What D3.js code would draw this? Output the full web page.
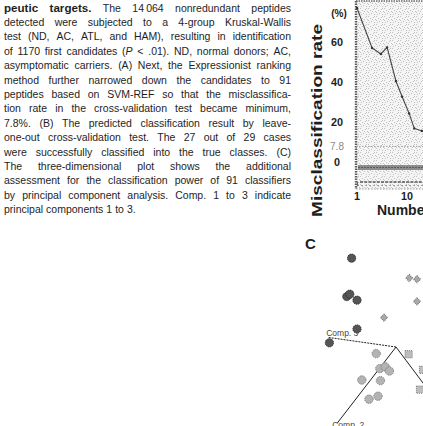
<!DOCTYPE html>
<html>
<head>
<meta charset="utf-8">
<script src="https://cdn.jsdelivr.net/npm/d3@7"></script>
<style>
  body { margin: 0; background: #fff; }
  svg { display: block; }
  text { font-family: "Liberation Sans", Arial, Helvetica, sans-serif; fill: #1e1e1e; }
</style>
</head>
<body>
<div id="chart"></div>
<script>
//--- CAPTION (one entry per printed line)
var captionLines = [
  'peutic targets. The 14\u2009064 nonredundant peptides',
  'detected were subjected to a 4-group Kruskal-Wallis',
  'test (ND, AC, ATL, and HAM), resulting in identification',
  'of 1170 first candidates (P < .01). ND, normal donors; AC,',
  'asymptomatic carriers. (A) Next, the Expressionist ranking',
  'method further narrowed down the candidates to 91',
  'peptides based on SVM-REF so that the misclassifica-',
  'tion rate in the cross-validation test became minimum,',
  '7.8%. (B) The predicted classification result by leave-',
  'one-out cross-validation test. The 27 out of 29 cases',
  'were successfully classified into the true classes. (C)',
  'The three-dimensional plot shows the additional',
  'assessment for the classification power of 91 classifiers',
  'by principal component analysis. Comp. 1 to 3 indicate',
  'principal components 1 to 3.'
];

//--- PANEL A DATA
var peptideCount = [1, 2, 3, 4, 6, 8, 11, 14, 20];
var misRate = [77, 57, 54, 57.3, 40.5, 32.6, 24.3, 16.8, 15.5];
var rateTicks = [60, 40, 20, 0];
var minRate = 7.8;
var countTicks = [1, 10];

//--- PANEL C DATA (projected PCA scores)
var darkCircles = [[-0.74, 1.48], [-0.82, 0.84], [-0.77, 0.88], [-0.65, 0.78], [-0.65, 0.30], [-1.11, 0.07]];
var lightDiamonds = [[0.22, 1.15], [0.35, 1.13], [0.35, 0.76], [-0.20, 0.49]];
var grayBlobs = [[-0.33, -0.11], [-0.27, -0.36], [-0.18, -0.33], [-0.11, -0.40], [-0.57, -0.55],
                 [-0.26, -0.56], [-0.45, -0.87], [-0.30, -0.82]];
var graySquares = [[0.21, -0.12], [0.40, -0.71], [0.45, -0.38]];
var compNames = ['Comp. 3', 'Comp. 2', 'Comp. 1'];
var compEnds = [[-1.13, 0.16], [-0.98, -1.27], [0.75, -1.0]];

var svg = d3.select('#chart').append('svg')
  .attr('width', 423)
  .attr('height', 426);

svg.append('rect').attr('width', 423).attr('height', 426).attr('fill', '#fff');

// light halftone for the plot background
var defs = svg.append('defs');
var stip = defs.append('pattern')
  .attr('id', 'stipple')
  .attr('width', 8).attr('height', 8)
  .attr('patternUnits', 'userSpaceOnUse');
stip.append('rect').attr('width', 8).attr('height', 8).attr('fill', '#f4f4f4');
[[0, 0], [5, 1], [2, 2], [7, 3], [3, 5], [6, 6], [1, 6], [4, 3], [0, 4], [6, 0]].forEach(function(p) {
  stip.append('rect').attr('x', p[0]).attr('y', p[1]).attr('width', 1).attr('height', 1).attr('fill', '#c4c4c4');
});

//--- CAPTION, justified word by word
var capLeft = 4, capRight = 291, capTop = 11.5, capStep = 14.4;

captionLines.forEach(function(line, i) {
  var y = capTop + i * capStep;
  var words = line.split(' ');
  var g = svg.append('g');
  var nodes = words.map(function(w, j) {
    var t = g.append('text').attr('y', y).style('font-size', '10.5px');
    if (i === 0 && j < 2) t.style('font-weight', 'bold').style('font-size', '11.6px');
    if (w === '(P') {
      t.append('tspan').text('(');
      t.append('tspan').style('font-style', 'italic').text('P');
    } else {
      t.text(w);
    }
    return t;
  });
  var widths = nodes.map(function(n) { return n.node().getComputedTextLength(); });
  var last = i === captionLines.length - 1;
  var gap = last ? 3 : (capRight - capLeft - d3.sum(widths)) / (words.length - 1);
  var x = capLeft;
  nodes.forEach(function(n, j) {
    n.attr('x', x);
    x += widths[j] + gap;
  });
});

//--- PANEL A
var plotLeft = 356, plotTop = 1, plotBottom = 189, plotRight = 430;

var scaleX = d3.scaleLog().domain([1, 10]).range([357, 407]);
var scaleY = d3.scaleLinear().domain([0, 80]).range([162, 2]);

svg.append('rect')
  .attr('x', plotLeft).attr('y', plotTop)
  .attr('width', plotRight - plotLeft).attr('height', plotBottom - plotTop)
  .attr('fill', 'url(#stipple)');

// frame
svg.append('line')
  .attr('x1', plotLeft).attr('x2', plotLeft).attr('y1', plotTop).attr('y2', plotBottom)
  .attr('stroke', '#5a5a5a').attr('stroke-width', 2.4).attr('stroke-dasharray', '1.5,1');
svg.append('line')
  .attr('x1', plotLeft).attr('x2', plotRight).attr('y1', plotTop).attr('y2', plotTop)
  .attr('stroke', '#6a6a6a').attr('stroke-width', 1.5).attr('stroke-dasharray', '1.5,1');
svg.append('line')
  .attr('x1', plotLeft).attr('x2', plotRight).attr('y1', plotBottom).attr('y2', plotBottom)
  .attr('stroke', '#999').attr('stroke-width', 1).attr('stroke-dasharray', '1.5,1.5');

// minimum rate reference
svg.append('line')
  .attr('x1', plotLeft).attr('x2', plotRight)
  .attr('y1', scaleY(minRate)).attr('y2', scaleY(minRate))
  .attr('stroke', '#a0a0a0').attr('stroke-width', 1).attr('stroke-dasharray', '1.5,1.5');

// lower bands
svg.append('rect')
  .attr('x', 358).attr('y', 165).attr('width', plotRight - 358).attr('height', 5)
  .attr('fill', '#8c8c8c');
svg.append('line')
  .attr('x1', 358).attr('x2', plotRight).attr('y1', 167.5).attr('y2', 167.5)
  .attr('stroke', '#5c5c5c').attr('stroke-width', 1).attr('stroke-dasharray', '2,1');
svg.append('line')
  .attr('x1', 360).attr('x2', plotRight).attr('y1', 182).attr('y2', 182)
  .attr('stroke', '#555').attr('stroke-width', 1.3).attr('stroke-dasharray', '3,1.2');
svg.append('line')
  .attr('x1', 357).attr('x2', plotRight).attr('y1', 185.5).attr('y2', 185.5)
  .attr('stroke', '#a0a0a0').attr('stroke-width', 1).attr('stroke-dasharray', '2,2');
svg.append('line')
  .attr('x1', 357.5).attr('x2', 357.5).attr('y1', 181.5).attr('y2', 186)
  .attr('stroke', '#666').attr('stroke-width', 1);

// misclassification curve
var rateData = peptideCount.map(function(n, i) { return { n: n, rate: misRate[i] }; });
var lineFunc = d3.line()
  .x(function(d) { return scaleX(d.n); })
  .y(function(d) { return scaleY(d.rate); });

svg.append('path')
  .datum(rateData)
  .attr('d', lineFunc)
  .attr('fill', 'none')
  .attr('stroke', '#444')
  .attr('stroke-width', 1.1);

svg.selectAll('.dot')
  .data(rateData)
  .enter().append('circle')
  .attr('class', 'dot')
  .attr('cx', function(d) { return scaleX(d.n); })
  .attr('cy', function(d) { return scaleY(d.rate); })
  .attr('r', 1.2)
  .attr('fill', '#333');

// y tick labels
svg.selectAll('.ytick')
  .data(rateTicks)
  .enter().append('text')
  .attr('class', 'ytick')
  .attr('x', 337)
  .attr('y', function(d) { return scaleY(d); })
  .attr('dy', '0.36em')
  .attr('text-anchor', 'middle')
  .style('font-size', '10.8px')
  .style('font-weight', 'bold')
  .text(function(d) { return d; });

svg.append('text')
  .attr('x', 337).attr('y', scaleY(minRate)).attr('dy', '0.36em')
  .attr('text-anchor', 'middle')
  .style('font-size', '10px')
  .style('fill', '#8a8a8a')
  .text(minRate);

svg.append('text')
  .attr('x', 339).attr('y', 13).attr('dy', '0.36em')
  .attr('text-anchor', 'middle')
  .style('font-size', '10px')
  .style('font-weight', 'bold')
  .text('(%)');

svg.append('text')
  .attr('transform', 'translate(322,120.5) rotate(-90)')
  .attr('text-anchor', 'middle')
  .attr('textLength', 193)
  .attr('lengthAdjust', 'spacingAndGlyphs')
  .style('font-size', '15px')
  .style('font-weight', 'bold')
  .text('Misclassification rate');

// x tick labels
svg.selectAll('.xtick')
  .data(countTicks)
  .enter().append('text')
  .attr('class', 'xtick')
  .attr('x', function(d) { return scaleX(d); })
  .attr('y', 200)
  .attr('text-anchor', 'middle')
  .style('font-size', '10.8px')
  .style('font-weight', 'bold')
  .text(function(d) { return d; });

svg.append('text')
  .attr('x', 377).attr('y', 215)
  .style('font-size', '14px')
  .style('font-weight', 'bold')
  .text('Number of peptides');

//--- PANEL C
svg.append('text')
  .attr('x', 305).attr('y', 249)
  .style('font-size', '15px')
  .style('font-weight', 'bold')
  .text('C');

var pcX = d3.scaleLinear().domain([-1, 1]).range([336, 456]);
var pcY = d3.scaleLinear().domain([-1, 1]).range([407, 287]);

compEnds.forEach(function(e, i) {
  svg.append('line')
    .attr('x1', pcX(0)).attr('y1', pcY(0))
    .attr('x2', pcX(e[0])).attr('y2', pcY(e[1]))
    .attr('stroke', '#222')
    .attr('stroke-width', 1)
    .attr('stroke-dasharray', i === 0 ? '2,1' : null);
});

svg.append('text')
  .attr('x', pcX(compEnds[0][0]) - 2).attr('y', pcY(compEnds[0][1]) - 1)
  .style('font-size', '8.5px')
  .style('fill', '#444')
  .text(compNames[0]);
svg.append('text')
  .attr('x', pcX(compEnds[1][0]) - 5).attr('y', pcY(compEnds[1][1]) + 5)
  .style('font-size', '8.5px')
  .style('fill', '#444')
  .text(compNames[1]);

svg.selectAll('.blob')
  .data(grayBlobs)
  .enter().append('circle')
  .attr('class', 'blob')
  .attr('cx', function(d) { return pcX(d[0]); })
  .attr('cy', function(d) { return pcY(d[1]); })
  .attr('r', 4.2)
  .attr('fill', '#b3b3b3')
  .attr('stroke', '#7a7a7a')
  .attr('stroke-width', 1)
  .attr('stroke-dasharray', '1.2,1');

svg.selectAll('.square')
  .data(graySquares)
  .enter().append('path')
  .attr('class', 'square')
  .attr('transform', function(d) { return 'translate(' + pcX(d[0]) + ',' + pcY(d[1]) + ')'; })
  .attr('d', d3.symbol().type(d3.symbolSquare).size(52))
  .attr('fill', '#bdbdbd')
  .attr('stroke', '#7a7a7a')
  .attr('stroke-width', 1)
  .attr('stroke-dasharray', '1,1');

svg.selectAll('.diamond')
  .data(lightDiamonds)
  .enter().append('path')
  .attr('class', 'diamond')
  .attr('transform', function(d) { return 'translate(' + pcX(d[0]) + ',' + pcY(d[1]) + ') rotate(45)'; })
  .attr('d', d3.symbol().type(d3.symbolSquare).size(26))
  .attr('fill', '#a9a9a9')
  .attr('stroke', '#6e6e6e')
  .attr('stroke-width', 1)
  .attr('stroke-dasharray', '1,1');

svg.selectAll('.dark')
  .data(darkCircles)
  .enter().append('circle')
  .attr('class', 'dark')
  .attr('cx', function(d) { return pcX(d[0]); })
  .attr('cy', function(d) { return pcY(d[1]); })
  .attr('r', 4.1)
  .attr('fill', '#555')
  .attr('stroke', '#2c2c2c')
  .attr('stroke-width', 1)
  .attr('stroke-dasharray', '1.3,0.8');
</script>
</body>
</html>
